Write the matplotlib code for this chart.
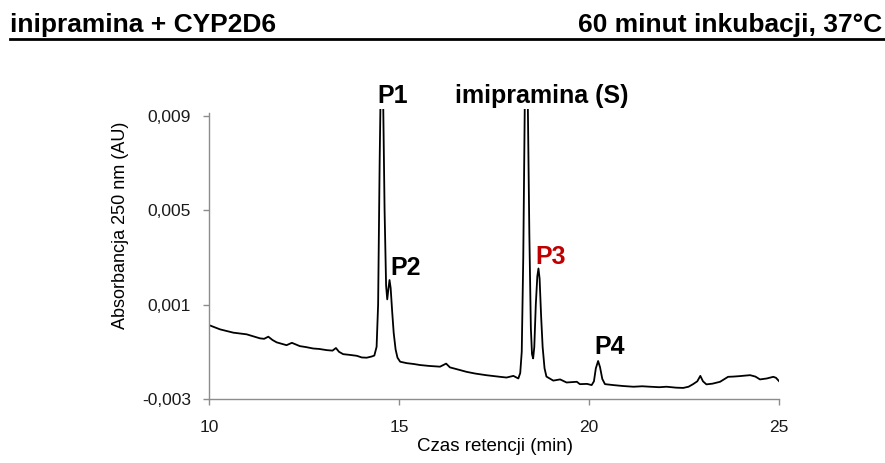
import matplotlib
matplotlib.use("Agg")
import matplotlib.pyplot as plt

plt.rcParams['font.family'] = ['Liberation Sans', 'DejaVu Sans']

# Chromatogram trace (retention time in min, absorbance in AU)
czas = [10.00, 10.29, 10.64, 10.99, 11.34, 11.45, 11.56, 11.67, 11.78, 12.04,
        12.18, 12.39, 12.55, 12.74, 12.90, 13.10, 13.25, 13.34, 13.42, 13.53,
        13.70, 13.89, 14.02, 14.15, 14.28, 14.35, 14.41, 14.45, 14.49, 14.52,
        14.55, 14.58, 14.62, 14.66, 14.69, 14.72, 14.75, 14.78, 14.82, 14.86,
        14.91, 14.96, 15.03, 15.20, 15.40, 15.55, 15.80, 16.08, 16.24, 16.34,
        16.55, 16.78, 17.00, 17.29, 17.50, 17.66, 17.83, 18.01, 18.14, 18.19,
        18.23, 18.27, 18.31, 18.35, 18.39, 18.43, 18.47, 18.50, 18.53, 18.56,
        18.60, 18.64, 18.67, 18.70, 18.74, 18.78, 18.83, 18.88, 19.06, 19.24,
        19.41, 19.68, 19.76, 19.95, 20.07, 20.13, 20.18, 20.24, 20.29, 20.35,
        20.42, 20.64, 20.90, 21.17, 21.40, 21.61, 21.85, 22.04, 22.30, 22.48,
        22.62, 22.74, 22.85, 22.93, 23.00, 23.09, 23.25, 23.45, 23.66, 23.80,
        23.97, 24.10, 24.24, 24.38, 24.50, 24.68, 24.85, 24.92, 25.00]
absorbancja = [0.00013, -0.00005, -0.00019, -0.00026, -0.00043, -0.00045, -0.00036, -0.00050, -0.00060, -0.00072,
               -0.00062, -0.00076, -0.00080, -0.00086, -0.00088, -0.00093, -0.00095, -0.00084, -0.00100, -0.00110,
               -0.00113, -0.00117, -0.00124, -0.00125, -0.00120, -0.00116, -0.00079, 0.00100, 0.00700, 0.01050,
               0.01150, 0.01000, 0.00500, 0.00180, 0.00122, 0.00165, 0.00204, 0.00170, 0.00070, -0.00020,
               -0.00090, -0.00125, -0.00142, -0.00148, -0.00152, -0.00156, -0.00160, -0.00163, -0.00150, -0.00166,
               -0.00175, -0.00185, -0.00192, -0.00199, -0.00203, -0.00206, -0.00209, -0.00202, -0.00213, -0.00190,
               -0.00100, 0.00300, 0.00950, 0.01180, 0.00950, 0.00400, 0.00000, -0.00110, -0.00128, -0.00080,
               0.00100, 0.00220, 0.00253, 0.00210, 0.00050, -0.00080, -0.00170, -0.00205, -0.00222, -0.00217,
               -0.00230, -0.00227, -0.00237, -0.00236, -0.00241, -0.00225, -0.00170, -0.00139, -0.00165, -0.00215,
               -0.00237, -0.00241, -0.00245, -0.00248, -0.00246, -0.00248, -0.00250, -0.00248, -0.00252, -0.00253,
               -0.00248, -0.00237, -0.00225, -0.00202, -0.00225, -0.00238, -0.00235, -0.00227, -0.00206, -0.00205,
               -0.00203, -0.00201, -0.00199, -0.00205, -0.00217, -0.00213, -0.00206, -0.00210, -0.00224]

# Peak labels
piki = ['P1', 'imipramina (S)', 'P2', 'P3', 'P4']
piki_x = [14.83, 18.75, 15.17, 18.99, 20.53]
piki_y = [0.00955, 0.00955, 0.00225, 0.00270, -0.00111]
piki_kolor = ['black', 'black', 'black', '#c00000', 'black']

x_ticks = [10, 15, 20, 25]
y_ticks = [-0.003, 0.001, 0.005, 0.009]
y_labels = ['-0,003', '0,001', '0,005', '0,009']

fig = plt.figure(figsize=(8.85, 4.63), dpi=100)
ax = fig.add_axes([0.2362, 0.1382, 0.644, 0.6272])

ax.plot(czas, absorbancja, color='black', lw=1.3)
ax.set_xlim(10, 25)
ax.set_ylim(-0.003, 0.0093)

for s in ['top', 'right']:
    ax.spines[s].set_visible(False)
for s in ['left', 'bottom']:
    ax.spines[s].set_color('#8c8c8c')
    ax.spines[s].set_linewidth(1.0)
ax.spines['left'].set_bounds(-0.003, 0.0091)

ax.set_xticks(x_ticks)
ax.set_yticks(y_ticks)
ax.set_yticklabels(y_labels)
ax.tick_params(axis='both', direction='out', length=4, width=1, color='#8c8c8c',
               labelsize=12.5, labelcolor='#1a1a1a')
ax.tick_params(axis='y', pad=9)
ax.tick_params(axis='x', pad=11)

for t, x, y, c in zip(piki, piki_x, piki_y, piki_kolor):
    ax.text(x, y, t, ha='center', va='baseline', fontsize=18, fontweight='bold', color=c)

fig.text(0.5593, 0.0346, 'Czas retencji (min)', ha='center', va='center', fontsize=13.5)
fig.text(0.1356, 0.513, 'Absorbancja 250 nm (AU)', ha='center', va='center',
         rotation=90, fontsize=13)

# Header with thick rule underneath
fig.text(0.0113, 0.9315, 'inipramina + CYP2D6', ha='left', va='baseline',
         fontsize=19, fontweight='bold')
fig.text(0.9966, 0.9315, '60 minut inkubacji, 37°C', ha='right', va='baseline',
         fontsize=19, fontweight='bold')
fig.add_artist(plt.Line2D([0.0113, 1.0], [0.9147, 0.9147], color='black', lw=2.0,
                          transform=fig.transFigure))

fig.savefig('out.png', dpi=100)
